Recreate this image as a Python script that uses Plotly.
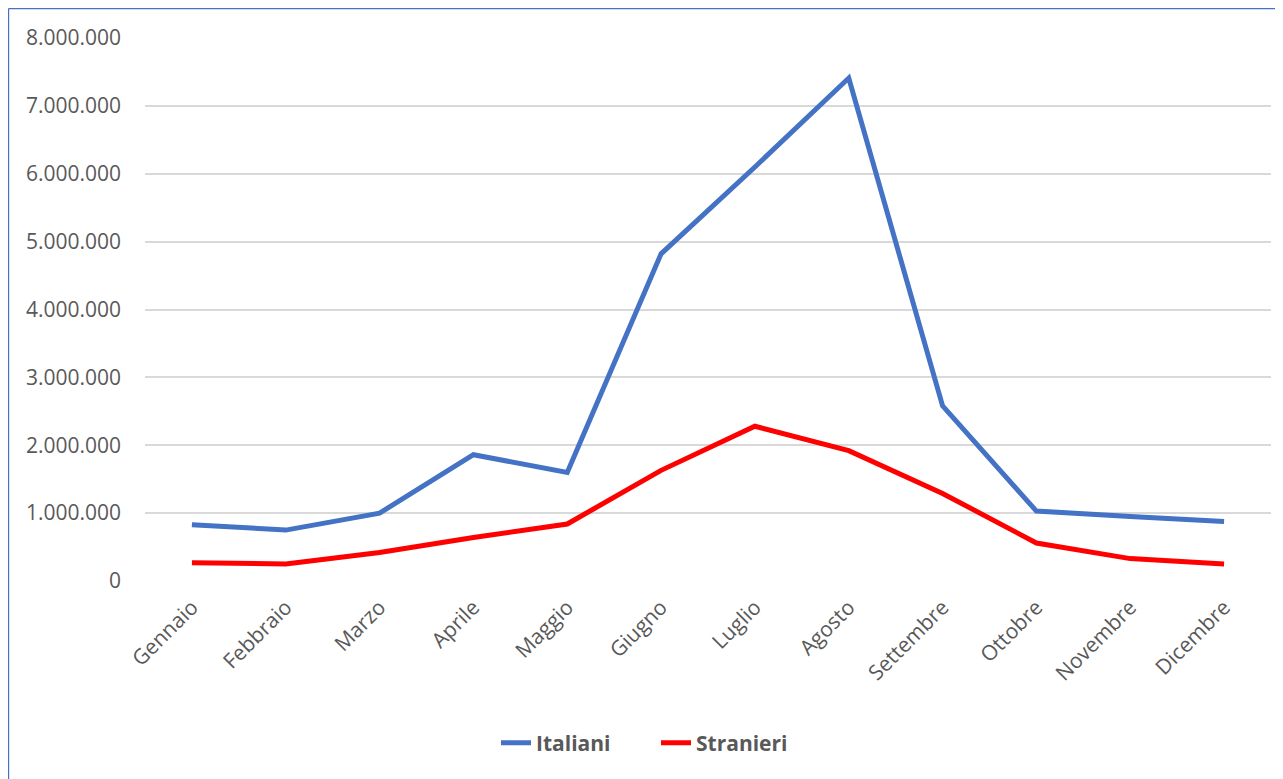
import plotly.graph_objects as go

mesi = ["Gennaio", "Febbraio", "Marzo", "Aprile", "Maggio", "Giugno",
        "Luglio", "Agosto", "Settembre", "Ottobre", "Novembre", "Dicembre"]
italiani = [830000, 750000, 1000000, 1860000, 1600000, 4820000,
            6100000, 7410000, 2580000, 1030000, 950000, 875000]
stranieri = [270000, 250000, 420000, 640000, 840000, 1630000,
             2280000, 1920000, 1290000, 560000, 330000, 250000]
y_ticks = [0, 1000000, 2000000, 3000000, 4000000, 5000000, 6000000, 7000000, 8000000]
y_labels = ["0", "1.000.000", "2.000.000", "3.000.000", "4.000.000",
            "5.000.000", "6.000.000", "7.000.000", "8.000.000"]

fig = go.Figure()
fig.add_trace(go.Scatter(x=mesi, y=italiani, name="Italiani", mode="lines",
                         line=dict(color="#4472C4", width=5)))
fig.add_trace(go.Scatter(x=mesi, y=stranieri, name="Stranieri", mode="lines",
                         line=dict(color="#FF0000", width=5)))

W, H = 1283, 779
OFF = 8  # page body margin
PL, PR, PT, PB = 145, 1271, 38, 581  # plot area in screen pixels
pw, ph = PR - PL, PB - PT

def px_x(p):
    return (p - PL) / pw

def px_y(p):
    return (PB - p) / ph

fig.update_layout(
    width=W, height=H,
    margin=dict(l=PL - OFF, r=OFF + W - PR, t=PT - OFF, b=OFF + H - PB),
    paper_bgcolor="white", plot_bgcolor="white",
    font=dict(family="Open Sans", color="#595959", size=21),
    showlegend=True,
    legend=dict(orientation="h", x=px_x(656), y=px_y(743), xanchor="center", yanchor="middle",
                font=dict(family="Open Sans", size=21, color="#595959", weight="bold"),
                entrywidth=115, entrywidthmode="pixels", tracegroupgap=0),
    xaxis=dict(tickangle=-45, showgrid=False, showline=False, ticks="",
               range=[-0.5, 11.5], ticklabelstandoff=9,
               tickfont=dict(size=21, color="#595959"), fixedrange=True),
    yaxis=dict(range=[0, 8000000], tickvals=y_ticks, ticktext=y_labels,
               showgrid=True, gridcolor="#D9D9D9", gridwidth=1.5,
               zeroline=False, showline=False, ticks="", ticklabelstandoff=23,
               tickfont=dict(size=21, color="#595959")),
    shapes=[
        dict(type="line", xref="paper", yref="paper",
             x0=px_x(8.6), x1=px_x(1300), y0=px_y(8.6), y1=px_y(8.6),
             line=dict(color="#4472C4", width=1.2)),
        dict(type="line", xref="paper", yref="paper",
             x0=px_x(8.6), x1=px_x(8.6), y0=px_y(8.6), y1=px_y(800),
             line=dict(color="#4472C4", width=1.2)),
    ],
)

fig.write_html("out.html")
